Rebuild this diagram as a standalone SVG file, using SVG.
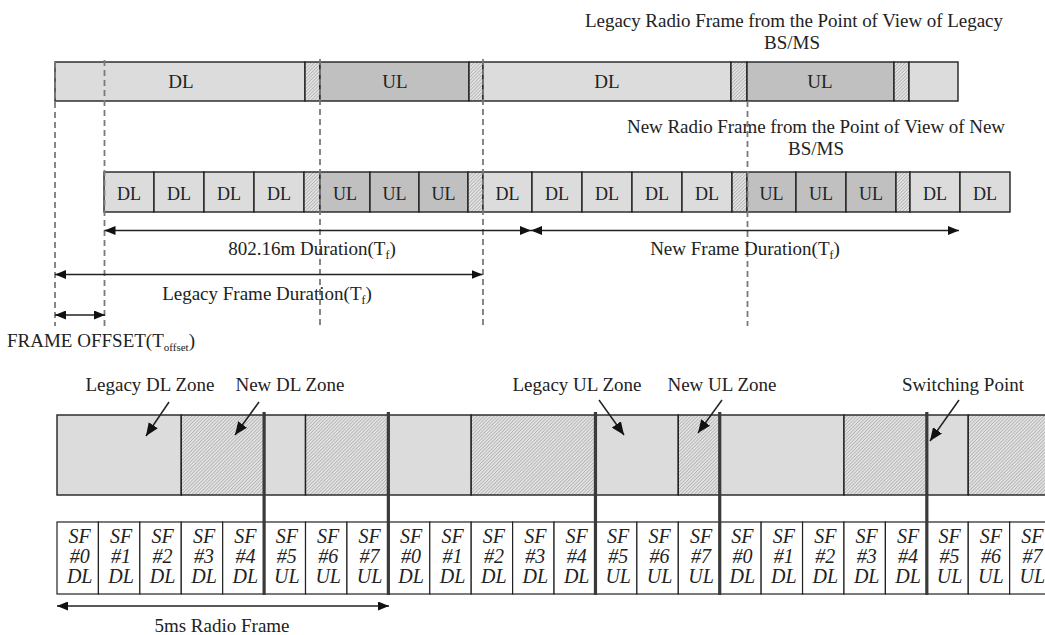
<svg xmlns="http://www.w3.org/2000/svg" width="1045" height="635" viewBox="0 0 1045 635">
<style>
.t{font-family:"Liberation Serif","Times New Roman",serif;font-size:19px;fill:#222}
.m{text-anchor:middle}
.c{font-size:18px;text-anchor:middle}
.sf{font-style:italic;font-size:20px;text-anchor:middle}
.dl{fill:#dcdcdc;stroke:#222;stroke-width:1.4}
.ul{fill:#c0c0c0;stroke:#222;stroke-width:1.4}
.h{fill:url(#hatch);stroke:#222;stroke-width:1.4}
.w{fill:#fff;stroke:#222;stroke-width:1.2}
.dash{stroke:#7a7a7a;stroke-width:1.8;stroke-dasharray:6 4;fill:none}
.a1{stroke:#222;stroke-width:1.5;fill:none;marker-end:url(#ap)}
.a2{stroke:#222;stroke-width:1.5;fill:none;marker-start:url(#ah);marker-end:url(#ah)}
.thick{stroke:#3a3a3a;stroke-width:3.2}
</style>
<defs>
<pattern id="hatch" patternUnits="userSpaceOnUse" width="2.4" height="2.4" patternTransform="rotate(45)">
<rect width="2.4" height="2.4" fill="#e2e2e2"/>
<line x1="0.4" y1="0" x2="0.4" y2="2.4" stroke="#a0a0a0" stroke-width="0.6"/>
</pattern>
<marker id="ah" viewBox="0 0 11 9" refX="11" refY="4.5" markerWidth="11" markerHeight="9" markerUnits="userSpaceOnUse" orient="auto-start-reverse">
<path d="M0,0 L11,4.5 L0,9 z" fill="#111"/>
</marker>
<marker id="ap" viewBox="0 0 13 11" refX="13" refY="5.5" markerWidth="13" markerHeight="11" markerUnits="userSpaceOnUse" orient="auto">
<path d="M0,0 L13,5.5 L0,11 z" fill="#111"/>
</marker>
</defs>
<rect width="1045" height="635" fill="#fff"/>

<g id="legacy-frame">
<text class="t m" x="794" y="27" textLength="418" lengthAdjust="spacing">Legacy Radio Frame from the Point of View of Legacy</text>
<text class="t m" x="792" y="49">BS/MS</text>
<rect class="dl" x="55" y="62" width="250" height="39"/>
<rect class="h" x="305" y="62" width="15" height="39"/>
<rect class="ul" x="320" y="62" width="149" height="39"/>
<rect class="h" x="469" y="62" width="14" height="39"/>
<rect class="dl" x="483" y="62" width="248" height="39"/>
<rect class="h" x="731" y="62" width="16" height="39"/>
<rect class="ul" x="747" y="62" width="147" height="39"/>
<rect class="h" x="894" y="62" width="15" height="39"/>
<rect class="dl" x="909" y="62" width="49" height="39"/>
<text class="t m" x="181" y="88">DL</text>
<text class="t m" x="395" y="88">UL</text>
<text class="t m" x="607" y="88">DL</text>
<text class="t m" x="820" y="88">UL</text>
</g>

<g id="new-frame">
<text class="t m" x="816" y="133" textLength="378" lengthAdjust="spacing">New Radio Frame from the Point of View of New</text>
<text class="t m" x="816" y="155">BS/MS</text>
<rect class="dl" x="104" y="172" width="50" height="40"/>
<rect class="dl" x="154" y="172" width="50" height="40"/>
<rect class="dl" x="204" y="172" width="50" height="40"/>
<rect class="dl" x="254" y="172" width="50" height="40"/>
<rect class="h" x="304" y="172" width="16" height="40"/>
<rect class="ul" x="320" y="172" width="50" height="40"/>
<rect class="ul" x="370" y="172" width="49" height="40"/>
<rect class="ul" x="419" y="172" width="49" height="40"/>
<rect class="h" x="468" y="172" width="15" height="40"/>
<rect class="dl" x="483" y="172" width="49" height="40"/>
<rect class="dl" x="532" y="172" width="50" height="40"/>
<rect class="dl" x="582" y="172" width="50" height="40"/>
<rect class="dl" x="632" y="172" width="50" height="40"/>
<rect class="dl" x="682" y="172" width="50" height="40"/>
<rect class="h" x="732" y="172" width="15" height="40"/>
<rect class="ul" x="747" y="172" width="49" height="40"/>
<rect class="ul" x="796" y="172" width="50" height="40"/>
<rect class="ul" x="846" y="172" width="50" height="40"/>
<rect class="h" x="896" y="172" width="14" height="40"/>
<rect class="dl" x="910" y="172" width="50" height="40"/>
<rect class="dl" x="960" y="172" width="50" height="40"/>
<text class="t c" x="129" y="200">DL</text>
<text class="t c" x="179" y="200">DL</text>
<text class="t c" x="229" y="200">DL</text>
<text class="t c" x="279" y="200">DL</text>
<text class="t c" x="345" y="200">UL</text>
<text class="t c" x="394.5" y="200">UL</text>
<text class="t c" x="443.5" y="200">UL</text>
<text class="t c" x="507.5" y="200">DL</text>
<text class="t c" x="557" y="200">DL</text>
<text class="t c" x="607" y="200">DL</text>
<text class="t c" x="657" y="200">DL</text>
<text class="t c" x="707" y="200">DL</text>
<text class="t c" x="771.5" y="200">UL</text>
<text class="t c" x="821" y="200">UL</text>
<text class="t c" x="871" y="200">UL</text>
<text class="t c" x="935" y="200">DL</text>
<text class="t c" x="985" y="200">DL</text>
</g>

<g id="guides">
<line class="dash" x1="55" y1="62" x2="55" y2="326"/>
<line class="dash" x1="104.5" y1="60" x2="104.5" y2="326"/>
<line class="dash" x1="320" y1="59" x2="320" y2="326"/>
<line class="dash" x1="483" y1="59" x2="483" y2="326"/>
<line class="dash" x1="747.5" y1="101" x2="747.5" y2="326"/>
</g>

<g id="duration-labels">
<text class="t m" x="312" y="255">802.16m Duration(T<tspan font-size="12" dy="4">f</tspan><tspan dy="-4">)</tspan></text>
<text class="t m" x="745" y="255">New Frame Duration(T<tspan font-size="12" dy="4">f</tspan><tspan dy="-4">)</tspan></text>
<text class="t m" x="267" y="300">Legacy Frame Duration(T<tspan font-size="12" dy="4">f</tspan><tspan dy="-4">)</tspan></text>
<text class="t" x="7" y="347">FRAME OFFSET(T<tspan font-size="11" dy="4">offset</tspan><tspan dy="-4">)</tspan></text>
</g>

<g id="zones">
<rect class="dl" x="57" y="415" width="124.26" height="80"/>
<rect class="h" x="181.26" y="415" width="82.84" height="80"/>
<rect class="dl" x="264.1" y="415" width="41.42" height="80"/>
<rect class="h" x="305.52" y="415" width="82.84" height="80"/>
<rect class="dl" x="388.36" y="415" width="82.84" height="80"/>
<rect class="h" x="471.2" y="415" width="124.26" height="80"/>
<rect class="dl" x="595.46" y="415" width="82.84" height="80"/>
<rect class="h" x="678.3" y="415" width="41.42" height="80"/>
<rect class="dl" x="719.72" y="415" width="124.26" height="80"/>
<rect class="h" x="843.98" y="415" width="82.84" height="80"/>
<rect class="dl" x="926.82" y="415" width="41.42" height="80"/>
<rect class="h" x="968.24" y="415" width="90" height="80"/>
<text class="t m" x="150" y="391">Legacy DL Zone</text>
<text class="t m" x="290" y="391">New DL Zone</text>
<text class="t m" x="577" y="391">Legacy UL Zone</text>
<text class="t m" x="722" y="391">New UL Zone</text>
<text class="t m" x="963" y="391">Switching Point</text>
</g>

<g id="subframes">
<rect class="w" x="57" y="522" width="41.42" height="72"/>
<rect class="w" x="98.42" y="522" width="41.42" height="72"/>
<rect class="w" x="139.84" y="522" width="41.42" height="72"/>
<rect class="w" x="181.26" y="522" width="41.42" height="72"/>
<rect class="w" x="222.68" y="522" width="41.42" height="72"/>
<rect class="w" x="264.1" y="522" width="41.42" height="72"/>
<rect class="w" x="305.52" y="522" width="41.42" height="72"/>
<rect class="w" x="346.94" y="522" width="41.42" height="72"/>
<rect class="w" x="388.36" y="522" width="41.42" height="72"/>
<rect class="w" x="429.78" y="522" width="41.42" height="72"/>
<rect class="w" x="471.2" y="522" width="41.42" height="72"/>
<rect class="w" x="512.62" y="522" width="41.42" height="72"/>
<rect class="w" x="554.04" y="522" width="41.42" height="72"/>
<rect class="w" x="595.46" y="522" width="41.42" height="72"/>
<rect class="w" x="636.88" y="522" width="41.42" height="72"/>
<rect class="w" x="678.3" y="522" width="41.42" height="72"/>
<rect class="w" x="719.72" y="522" width="41.42" height="72"/>
<rect class="w" x="761.14" y="522" width="41.42" height="72"/>
<rect class="w" x="802.56" y="522" width="41.42" height="72"/>
<rect class="w" x="843.98" y="522" width="41.42" height="72"/>
<rect class="w" x="885.4" y="522" width="41.42" height="72"/>
<rect class="w" x="926.82" y="522" width="41.42" height="72"/>
<rect class="w" x="968.24" y="522" width="41.42" height="72"/>
<rect class="w" x="1009.66" y="522" width="41.42" height="72"/>
<text class="t sf" y="543"><tspan x="79.7">SF</tspan><tspan x="79.7" y="563">#0</tspan><tspan x="79.7" y="583">DL</tspan></text>
<text class="t sf" y="543"><tspan x="121.1">SF</tspan><tspan x="121.1" y="563">#1</tspan><tspan x="121.1" y="583">DL</tspan></text>
<text class="t sf" y="543"><tspan x="162.5">SF</tspan><tspan x="162.5" y="563">#2</tspan><tspan x="162.5" y="583">DL</tspan></text>
<text class="t sf" y="543"><tspan x="204">SF</tspan><tspan x="204" y="563">#3</tspan><tspan x="204" y="583">DL</tspan></text>
<text class="t sf" y="543"><tspan x="245.4">SF</tspan><tspan x="245.4" y="563">#4</tspan><tspan x="245.4" y="583">DL</tspan></text>
<text class="t sf" y="543"><tspan x="286.8">SF</tspan><tspan x="286.8" y="563">#5</tspan><tspan x="286.8" y="583">UL</tspan></text>
<text class="t sf" y="543"><tspan x="328.2">SF</tspan><tspan x="328.2" y="563">#6</tspan><tspan x="328.2" y="583">UL</tspan></text>
<text class="t sf" y="543"><tspan x="369.6">SF</tspan><tspan x="369.6" y="563">#7</tspan><tspan x="369.6" y="583">UL</tspan></text>
<text class="t sf" y="543"><tspan x="411.1">SF</tspan><tspan x="411.1" y="563">#0</tspan><tspan x="411.1" y="583">DL</tspan></text>
<text class="t sf" y="543"><tspan x="452.5">SF</tspan><tspan x="452.5" y="563">#1</tspan><tspan x="452.5" y="583">DL</tspan></text>
<text class="t sf" y="543"><tspan x="493.9">SF</tspan><tspan x="493.9" y="563">#2</tspan><tspan x="493.9" y="583">DL</tspan></text>
<text class="t sf" y="543"><tspan x="535.3">SF</tspan><tspan x="535.3" y="563">#3</tspan><tspan x="535.3" y="583">DL</tspan></text>
<text class="t sf" y="543"><tspan x="576.7">SF</tspan><tspan x="576.7" y="563">#4</tspan><tspan x="576.7" y="583">DL</tspan></text>
<text class="t sf" y="543"><tspan x="618.2">SF</tspan><tspan x="618.2" y="563">#5</tspan><tspan x="618.2" y="583">UL</tspan></text>
<text class="t sf" y="543"><tspan x="659.6">SF</tspan><tspan x="659.6" y="563">#6</tspan><tspan x="659.6" y="583">UL</tspan></text>
<text class="t sf" y="543"><tspan x="701">SF</tspan><tspan x="701" y="563">#7</tspan><tspan x="701" y="583">UL</tspan></text>
<text class="t sf" y="543"><tspan x="742.4">SF</tspan><tspan x="742.4" y="563">#0</tspan><tspan x="742.4" y="583">DL</tspan></text>
<text class="t sf" y="543"><tspan x="783.8">SF</tspan><tspan x="783.8" y="563">#1</tspan><tspan x="783.8" y="583">DL</tspan></text>
<text class="t sf" y="543"><tspan x="825.3">SF</tspan><tspan x="825.3" y="563">#2</tspan><tspan x="825.3" y="583">DL</tspan></text>
<text class="t sf" y="543"><tspan x="866.7">SF</tspan><tspan x="866.7" y="563">#3</tspan><tspan x="866.7" y="583">DL</tspan></text>
<text class="t sf" y="543"><tspan x="908.1">SF</tspan><tspan x="908.1" y="563">#4</tspan><tspan x="908.1" y="583">DL</tspan></text>
<text class="t sf" y="543"><tspan x="949.5">SF</tspan><tspan x="949.5" y="563">#5</tspan><tspan x="949.5" y="583">UL</tspan></text>
<text class="t sf" y="543"><tspan x="990.9">SF</tspan><tspan x="990.9" y="563">#6</tspan><tspan x="990.9" y="583">UL</tspan></text>
<text class="t sf" y="543"><tspan x="1032.4">SF</tspan><tspan x="1032.4" y="563">#7</tspan><tspan x="1032.4" y="583">UL</tspan></text>
<text class="t m" x="222" y="632">5ms Radio Frame</text>
</g>

<g id="switching-lines">
<line class="thick" x1="264.1" y1="412" x2="264.1" y2="595"/>
<line class="thick" x1="388.36" y1="412" x2="388.36" y2="595"/>
<line class="thick" x1="595.46" y1="412" x2="595.46" y2="595"/>
<line class="thick" x1="719.72" y1="412" x2="719.72" y2="595"/>
<line class="thick" x1="926.82" y1="412" x2="926.82" y2="595"/>
</g>

<g id="connectors">
<line class="a2" x1="104.5" y1="230.5" x2="531" y2="230.5"/>
<line class="a2" x1="531" y1="230.5" x2="959" y2="230.5"/>
<line class="a2" x1="55" y1="274.5" x2="482.5" y2="274.5"/>
<line class="a2" x1="55" y1="315" x2="105" y2="315"/>
<line class="a2" x1="57" y1="606" x2="389" y2="606"/>
<line class="a1" x1="169" y1="402" x2="146" y2="436"/>
<line class="a1" x1="259" y1="402" x2="235" y2="435"/>
<line class="a1" x1="599" y1="400" x2="624" y2="435"/>
<line class="a1" x1="722" y1="400" x2="698" y2="433"/>
<line class="a1" x1="959" y1="400" x2="930" y2="441"/>
</g>
</svg>
